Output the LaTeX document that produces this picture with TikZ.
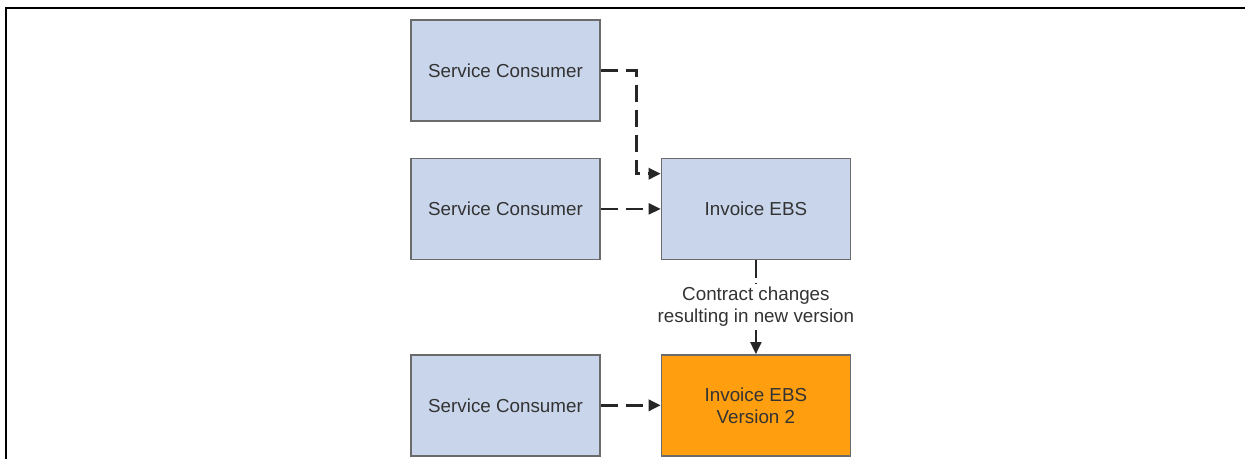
\documentclass[tikz,border=0pt]{standalone}
\usepackage{fontspec}
\setmainfont{Liberation Sans}
\usetikzlibrary{positioning, arrows.meta, calc}
\definecolor{scblue}{HTML}{C9D5EB}
\definecolor{ebsorange}{HTML}{FF9E0F}
\definecolor{boxline}{HTML}{6B6B6B}
\definecolor{txtgray}{HTML}{333333}

\begin{document}
\begin{tikzpicture}[
        b/.style={draw=boxline, line width=0.8pt, fill=scblue, text=txtgray, font=\fontsize{10.7}{12.5}\selectfont, minimum width=3.78cm, minimum height=2.02cm, align=center, inner sep=0pt},
        flow/.style={-{Triangle[length=2.4mm,width=2.2mm]}, line width=1.7pt, dash pattern=on 0.34cm off 0.16cm, color=black!85}]
      \useasboundingbox (0,0) rectangle (24.9,-9.18);
      \draw[line width=1.7pt] (0.12,-9.18) |- (24.9,-0.16);
      \node[b] (sc1) at (10.11,-1.41) {Service Consumer};
      \node[b, below=0.72cm of sc1] (sc2) {Service Consumer};
      \node[b, right=1.2cm of sc2] (ebs) {Invoice EBS};
      \node[b, below=1.88cm of sc2] (sc3) {Service Consumer};
      \node[b, right=1.2cm of sc3, fill=ebsorange] (ebs2) {Invoice EBS\\Version 2};
      \coordinate (in1) at ($(ebs.north west)+(0,-0.32)$);
      \draw[flow] (sc1.east) -| ($(in1)+(-0.48,0)$) -- (in1);
      \draw[flow, line width=1.2pt] (sc2.east) -- (ebs.west);
      \draw[flow] (sc3.east) -- (ebs2.west);
      \draw[flow, line width=1.2pt, dash pattern=on 0.36cm off 0.1cm] (ebs.south) -- node[midway, fill=white, text=txtgray, font=\fontsize{10.7}{12.5}\selectfont, align=center, inner sep=2pt] (note) {Contract changes\\resulting in new version} (ebs2.north);
    \end{tikzpicture}
\end{document}
